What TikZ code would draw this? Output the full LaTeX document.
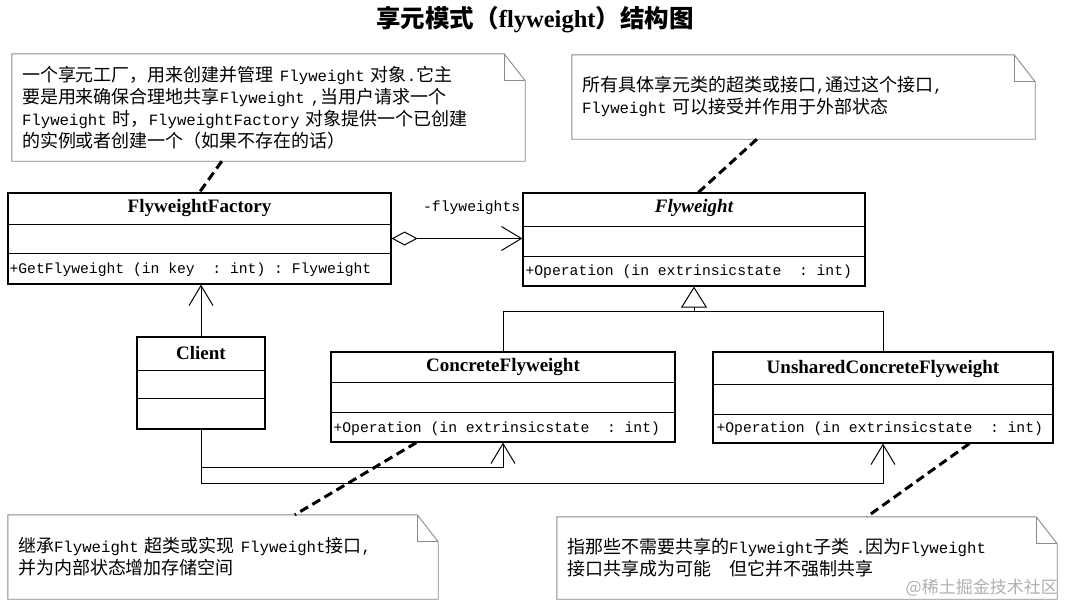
\documentclass[tikz,border=0pt]{standalone}
\usepackage{fontspec}
\setmainfont{Liberation Serif}
\setmonofont{Liberation Mono}
\newfontfamily\cjk{Noto Sans CJK SC}
\definecolor{notegray}{HTML}{8A8A8A}
\definecolor{wmgray}{HTML}{B0B0B0}
\usetikzlibrary{arrows.meta, positioning, calc}
\newcommand\asc[1]{{\ttfamily\fontsize{15.7}{22}\selectfont #1}}

\begin{document}
\begin{tikzpicture}[x=1pt,y=-1pt,
    cls/.style 2 args={draw,line width=1.2pt,inner sep=0pt,minimum width=#1,minimum height=#2},
    cname/.style={font=\fontsize{19}{22}\selectfont\bfseries,inner sep=0pt},
    mth/.style={font=\ttfamily\fontsize{14.7}{18}\selectfont,inner sep=0pt},
    note/.style 2 args={text width=#1,minimum height=#2,inner xsep=10pt,inner ysep=0pt,align=left,font=\cjk\fontsize{18}{22}\selectfont},
    noteline/.style={draw=notegray,line width=0.9pt},
    notelink/.style={line width=3pt,dash pattern=on 9pt off 5pt},
    link/.style={line width=1pt},
    dep/.style={link,-{Straight Barb[length=20pt,width=24pt]}}]
    \fill[white] (0,0) rectangle (1080,614);
    \useasboundingbox (0,0) rectangle (1080,614);
    \node[font=\fontsize{24.5}{28}\selectfont\bfseries] (title) at (535,20) {{\cjk 享元模式（}flyweight{\cjk ）结构图}};
    \node[cls={383pt}{91pt}] (fac) at (199.5,238.5) {};
    \node[cls={342pt}{93pt}] (fw) at (694,239.5) {};
    \node[cls={128pt}{92pt}] (cli) at (201,383) {};
    \node[cls={344pt}{90pt}] (con) at (503,397) {};
    \node[cls={340pt}{91pt}] (uns) at (883,397.5) {};
    \foreach \c/\a/\b in {fac/32/61,fw/34/64,cli/34/62,con/31/61,uns/33/63}{
      \draw[line width=1.2pt] ($(\c.north west)+(0,\a)$) -- ($(\c.north east)+(0,\a)$);
      \draw[line width=1.2pt] ($(\c.north west)+(0,\b)$) -- ($(\c.north east)+(0,\b)$);
    }
    \node[cname] (facname) at ($(fac.north)+(0,16)$) {FlyweightFactory};
    \node[cname,font=\fontsize{19}{22}\selectfont\bfseries\itshape] (fwname) at ($(fw.north)+(0,16)$) {Flyweight};
    \node[cname] (cliname) at ($(cli.north)+(0,17)$) {Client};
    \node[cname] (conname) at ($(con.north)+(0,16)$) {ConcreteFlyweight};
    \node[cname] (unsname) at ($(uns.north)+(0,18)$) {UnsharedConcreteFlyweight};
    \node[mth,anchor=west] (facop) at ($(fac.south west)+(2,-15)$) {+GetFlyweight (in key~ : int) : Flyweight};
    \node[mth,anchor=west] (fwop) at ($(fw.south west)+(3,-15)$) {+Operation (in extrinsicstate~ : int)};
    \node[mth,anchor=west] (conop) at ($(con.south west)+(3,-14)$) {+Operation (in extrinsicstate~ : int)};
    \node[mth,anchor=west] (unsop) at ($(uns.south west)+(4,-15)$) {+Operation (in extrinsicstate~ : int)};
    \node[mth,anchor=east] (role) at ($(fw.north west)+(-2,15)$) {-flyweights};
    \draw[link,{Diamond[open,length=26pt,width=14pt]}-{Straight Barb[length=20pt,width=24pt]}] (fac.east) -- (fac.east -| fw.west);
    \coordinate (hub) at ($(fw.south)+(0,25)$);
    \draw[link] (con.north) |- (hub) -| (uns.north);
    \draw[link,-{Triangle[open,length=21pt,width=26pt]}] (hub) -- (fw.south);
    \draw[dep] (cli.north) -- (cli.north |- fac.south);
    \coordinate (j1) at ($(cli.south)+(0,38)$);
    \coordinate (j2) at ($(cli.south)+(0,54)$);
    \draw[dep] (cli.south) -- (j2) -| (uns.south);
    \draw[dep] (j1) -| (con.south);
    \node[note={493pt}{107pt}] (n1) at (268.5,107.5) {一个享元工厂，用来创建并管理 \asc{Flyweight} 对象\asc{.}它主\\
      要是用来确保合理地共享\asc{Flyweight ,}当用户请求一个\\
      \asc{Flyweight} 时，\asc{FlyweightFactory} 对象提供一个已创建\\
      的实例或者创建一个（如果不存在的话）};
    \node[note={443pt}{84pt}] (n2) at (803.5,97) {所有具体享元类的超类或接口\asc{,}通过这个接口\asc{,}\\
      \asc{Flyweight} 可以接受并作用于外部状态};
    \node[note={410pt}{84pt}] (n3) at (223,557) {继承\asc{Flyweight} 超类或实现 \asc{Flyweight}接口\asc{,}\\
      并为内部状态增加存储空间};
    \node[note={480pt}{82pt}] (n4) at (807,558) {指那些不需要共享的\asc{Flyweight}子类 \asc{.}因为\asc{Flyweight}\\
      接口共享成为可能\hspace{1em}但它并不强制共享};
    \foreach \n in {n1,n2,n3,n4}{
      \draw[noteline] (\n.north west) -- ([xshift=-21pt]\n.north east) -- ([yshift=-27pt]\n.north east) -- (\n.south east) -- (\n.south west) -- cycle;
      \draw[noteline] ([xshift=-21pt]\n.north east) |- ([yshift=-27pt]\n.north east);
    }
    \draw[notelink] ($(n1.south west)+(210,0)$) -- ($(fac.north west)+(192,0)$);
    \draw[notelink] ($(n2.south west)+(185,0)$) -- ($(fw.north west)+(176,0)$);
    \draw[notelink] ($(con.south west)+(86,0)$) -- ($(n3.north west)+(287,0)$);
    \draw[notelink] ($(uns.south west)+(257,0)$) -- ($(n4.north west)+(310,0)$);
    \node[font=\cjk\fontsize{17}{20}\selectfont,text=wmgray,anchor=east,inner sep=0pt] (wm) at (1058,588) {@稀土掘金技术社区};
  \end{tikzpicture}
\end{document}
